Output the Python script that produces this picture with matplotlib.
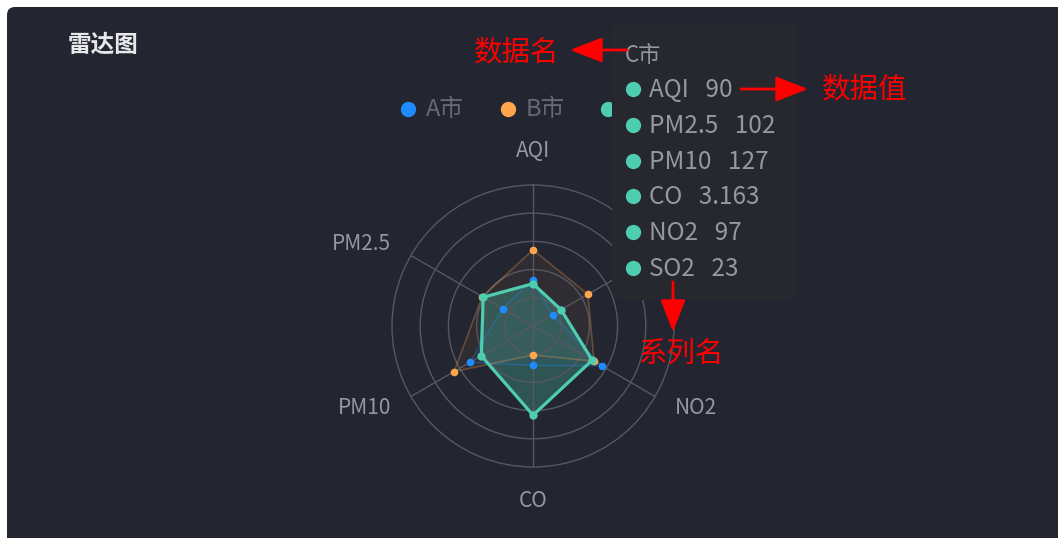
import numpy as np
import matplotlib
matplotlib.use("Agg")
import matplotlib.pyplot as plt
from matplotlib.patches import FancyBboxPatch

plt.rcParams['font.family'] = ['Noto Sans CJK SC', 'DejaVu Sans']

# data
indicators = ['AQI', 'PM2.5', 'PM10', 'CO', 'NO2', 'SO2']
max_vals = [300, 250, 300, 5, 200, 100]
series_names = ['A市', 'B市', 'C市']
a_vals = [98, 62, 155, 1.4, 113, 16]
b_vals = [162, 104, 194, 1.03, 100, 45]
c_vals = [90, 102, 127, 3.163, 97, 23]

colors = ['#1e8cff', '#ffa64d', '#4ecdb0']
BG = '#232631'
GRID = '#555862'
LABEL = '#9598a0'

W, H = 1058, 538
cx, cy, R = 533, 326, 141


def pixel_axes(z):
    a = fig.add_axes([0, 0, 1, 1], zorder=z)
    a.set_xlim(0, W)
    a.set_ylim(H, 0)
    a.axis('off')
    a.patch.set_alpha(0)
    return a


fig = plt.figure(figsize=(W / 100, H / 100), dpi=100)
fig.patch.set_facecolor('white')

# dark panel
bg = pixel_axes(0)
bg.add_patch(FancyBboxPatch((7, 7), W + 20, H + 20,
                            boxstyle='round,pad=0,rounding_size=8',
                            fc=BG, ec='none'))

# radar
ax = fig.add_axes([(cx - R) / W, (H - cy - R) / H, 2 * R / W, 2 * R / H],
                  projection='polar', zorder=1)
ax.set_facecolor('none')
ax.set_theta_offset(np.pi / 2)
ax.set_ylim(0, 1)
theta = np.radians(np.arange(len(indicators)) * 360 / len(indicators))
ax.set_rgrids([0.2, 0.4, 0.6, 0.8], labels=[])
ax.set_thetagrids(np.degrees(theta), labels=[])
ax.grid(color=GRID, lw=1)
ax.spines['polar'].set_color(GRID)
ax.spines['polar'].set_linewidth(1)
ax.tick_params(length=0)

tc = np.append(theta, theta[0])
for k, vals in enumerate([a_vals, b_vals, c_vals]):
    r = np.array(vals) / np.array(max_vals)
    rc = np.append(r, r[0])
    if k < 2:
        ax.fill(tc, rc, color=colors[k], alpha=0.06, lw=0)
        ax.plot(tc, rc, color=colors[k], lw=1.2, alpha=0.28)
        ax.plot(theta, r, 'o', color=colors[k], ms=5.5, mec='none')
    else:
        ax.fill(tc, rc, color=colors[k], alpha=0.28, lw=0)
        ax.plot(tc, rc, color=colors[k], lw=2.3)
        ax.plot(theta, r, 'o', color=colors[k], ms=6, mec='none')

for t, name in zip(theta, indicators):
    x, y = -np.sin(t), np.cos(t)
    ha = 'center' if abs(x) < 0.1 else ('left' if x > 0 else 'right')
    va = 'bottom' if y > 0.9 else ('top' if y < -0.9 else 'center')
    ax.text(t, 1.16, name, ha=ha, va=va, color=LABEL, fontsize=15)

# title and legend
ov = pixel_axes(2)
ov.text(68, 45, '雷达图', color='#e8e8ea', fontsize=17, fontweight='bold', va='center')
for i, (name, col) in enumerate(zip(series_names, colors)):
    lx = 408 + i * 100
    ov.plot(lx, 109, 'o', color=col, ms=11, mec='none')
    ov.text(lx + 18, 110, name, color='#676a75', fontsize=17, va='center')

# tooltip on top
tip = pixel_axes(3)
tip.add_patch(FancyBboxPatch((612, 22), 185, 278,
                             boxstyle='round,pad=0,rounding_size=8',
                             fc='#27282d', ec='none'))
tip.text(625, 55, series_names[2], color=LABEL, fontsize=16, va='center')
for i, (name, v) in enumerate(zip(indicators, c_vals)):
    ry = 89 + i * 35.8
    tip.plot(633, ry, 'o', color=colors[2], ms=11, mec='none')
    tip.text(649, ry + 1, f"{name}   {v:g}", color=LABEL, fontsize=17.5, va='center')

# notes
arrow = dict(arrowstyle='-|>,head_length=0.9,head_width=0.35', color='red',
             lw=2, mutation_scale=22, shrinkA=0, shrinkB=0)
tip.annotate('', xy=(570, 50), xytext=(627, 50), arrowprops=arrow)
tip.annotate('', xy=(808, 89), xytext=(741, 89), arrowprops=arrow)
tip.annotate('', xy=(673, 332), xytext=(673, 282), arrowprops=arrow)
tip.text(474, 52, '数据名', color='red', fontsize=20.5, va='center')
tip.text(822, 89, '数据值', color='red', fontsize=20.5, va='center')
tip.text(638, 355, '系列名', color='red', fontsize=20.5, va='center')

fig.savefig('out.png', dpi=100)
